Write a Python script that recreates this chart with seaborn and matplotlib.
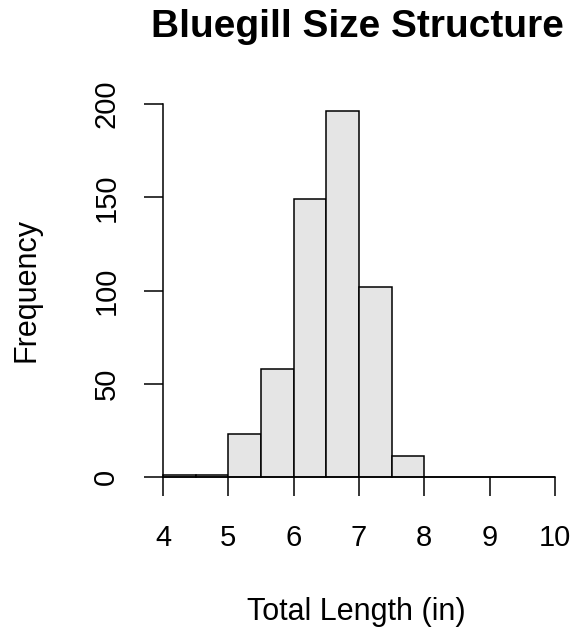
import numpy as np
import matplotlib
matplotlib.use("Agg")
import matplotlib.pyplot as plt
import seaborn as sns

bordes = [4.0, 4.5, 5.0, 5.5, 6.0, 6.5, 7.0, 7.5, 8.0, 8.5, 9.0, 9.5, 10.0]
conteos = [1, 1, 23, 58, 149, 196, 102, 11, 0, 0, 0, 0]
ticks_x = [4, 5, 6, 7, 8, 9, 10]
ticks_y = [0, 50, 100, 150, 200]

centros = [(a + b) / 2 for a, b in zip(bordes[:-1], bordes[1:])]

sns.set_style("ticks")
plt.rcParams['font.family'] = ['Liberation Sans', 'DejaVu Sans']
plt.rcParams['text.color'] = 'black'
plt.rcParams['xtick.color'] = 'black'
plt.rcParams['ytick.color'] = 'black'

fig = plt.figure(figsize=(5.76, 6.4), dpi=100)
ax = fig.add_axes([163 / 576, (640 - 477) / 640, (555 - 163) / 576, (477 - 104) / 640])

sns.histplot(x=centros, weights=conteos, bins=bordes, color='#e5e5e5',
             edgecolor='black', linewidth=1.1, alpha=1, ax=ax, clip_on=False)

ax.set_xlim(4, 10)
ax.set_ylim(0, 200)
ax.set_xticks(ticks_x)
ax.set_yticks(ticks_y)
ax.set_xlabel('')
ax.set_ylabel('')
ax.tick_params(axis='both', length=13.7, width=1.1, colors='black', labelsize=21)
ax.tick_params(axis='x', pad=20)
ax.tick_params(axis='y', pad=17, labelrotation=90)
for lab in ax.get_yticklabels():
    lab.set_va('center')

for s in ['top', 'right']:
    ax.spines[s].set_visible(False)
for s in ['left', 'bottom']:
    ax.spines[s].set_linewidth(1.1)
    ax.spines[s].set_color('black')

fig.text(357 / 576, 1 - 27 / 640, 'Bluegill Size Structure', ha='center', va='center',
         fontsize=28, fontweight='bold', color='black')
fig.text(356 / 576, 1 - 612 / 640, 'Total Length (in)', ha='center', va='center',
         fontsize=22, color='black')
fig.text(27 / 576, 1 - 290 / 640, 'Frequency', ha='center', va='center', rotation=90,
         fontsize=22, color='black')

fig.savefig('out.png', dpi=100)
